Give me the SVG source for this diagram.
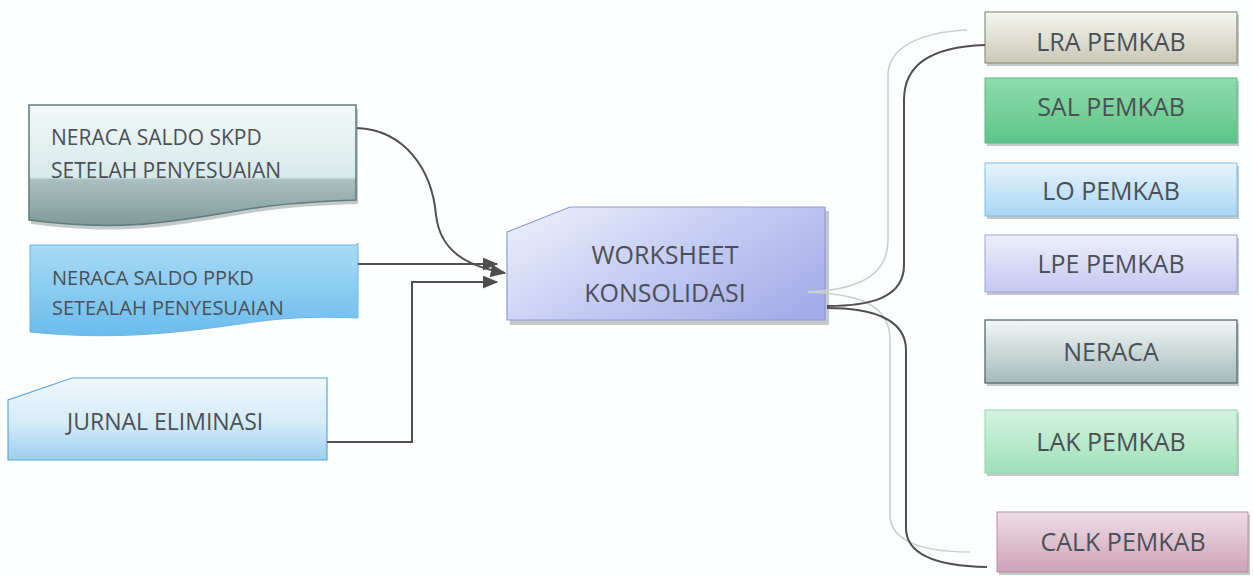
<svg xmlns="http://www.w3.org/2000/svg" width="1253" height="576" viewBox="0 0 1253 576">
<defs>
<style>
.t{font-family:"Open Sans","Liberation Sans",sans-serif;fill:#4b5056;}
.c{text-anchor:middle;}
.r{font-size:25px;text-anchor:middle;}
.dk{fill:none;stroke:#505050;stroke-width:2;}
.lt{fill:none;stroke:#c9cfcf;stroke-width:1.6;}
.sh{fill:#7d8a8a;opacity:0.45;}
</style>
<marker id="ah" viewBox="0 0 12 10" refX="11" refY="5" markerWidth="16" markerHeight="13" markerUnits="userSpaceOnUse" orient="auto">
<path d="M0,0 L12,5 L0,10 Z" fill="#4d4d4d"/>
</marker>
<linearGradient id="g1" x1="0" y1="0" x2="0" y2="1">
<stop offset="0" stop-color="#f2f9f9"/><stop offset="0.6" stop-color="#d7e9ea"/><stop offset="0.62" stop-color="#aac0c0"/><stop offset="1" stop-color="#7f9a9a"/>
</linearGradient>
<linearGradient id="g2" x1="0" y1="0" x2="0" y2="1">
<stop offset="0" stop-color="#a9dbf6"/><stop offset="1" stop-color="#6bbcec"/>
</linearGradient>
<linearGradient id="g3" x1="0" y1="0" x2="0" y2="1">
<stop offset="0" stop-color="#f0f8fc"/><stop offset="0.55" stop-color="#d5ebf7"/><stop offset="1" stop-color="#9bcfef"/>
</linearGradient>
<linearGradient id="gw" x1="0" y1="0.2" x2="1" y2="0.8">
<stop offset="0" stop-color="#e9ecfb"/><stop offset="0.5" stop-color="#c4cbf3"/><stop offset="1" stop-color="#a4ade9"/>
</linearGradient>
<linearGradient id="gLRA" x1="0" y1="0" x2="0" y2="1">
<stop offset="0" stop-color="#f7f7f2"/><stop offset="1" stop-color="#c9c8b6"/>
</linearGradient>
<linearGradient id="gSAL" x1="0" y1="0" x2="0" y2="1">
<stop offset="0" stop-color="#8fdcab"/><stop offset="1" stop-color="#5dc587"/>
</linearGradient>
<linearGradient id="gLO" x1="0" y1="0" x2="0" y2="1">
<stop offset="0" stop-color="#e7f4fc"/><stop offset="1" stop-color="#a9d6f3"/>
</linearGradient>
<linearGradient id="gLPE" x1="0" y1="0" x2="0" y2="1">
<stop offset="0" stop-color="#eeeffb"/><stop offset="1" stop-color="#c4c8ef"/>
</linearGradient>
<linearGradient id="gNER" x1="0" y1="0" x2="0" y2="1">
<stop offset="0" stop-color="#f3f8f7"/><stop offset="1" stop-color="#a3b9b9"/>
</linearGradient>
<linearGradient id="gLAK" x1="0" y1="0" x2="0" y2="1">
<stop offset="0" stop-color="#d6f3e0"/><stop offset="1" stop-color="#9fe0b9"/>
</linearGradient>
<linearGradient id="gCALK" x1="0" y1="0" x2="0" y2="1">
<stop offset="0" stop-color="#efdde6"/><stop offset="1" stop-color="#cfa2b7"/>
</linearGradient>
</defs>
<rect width="1253" height="576" fill="#fdfefe"/>

<g id="node-skpd">
<path d="M31,109 H358 V204 C300,206 270,209 232,216 C172,226 122,236 31,224 Z" class="sh"/>
<path d="M29,105 H356 V200 C300,202 270,205 230,212 C170,222 120,232 29,220 Z" fill="url(#g1)" stroke="#5f7b7c" stroke-width="1.5"/>
<text class="t" x="51" y="145" font-size="21">NERACA SALDO SKPD</text>
<text class="t" x="51" y="178" font-size="21">SETELAH PENYESUAIAN</text>
</g>

<g id="node-ppkd">
<path d="M30,245 H356 L358,243 V318 C310,316 280,318 240,324 C170,334 110,340 30,332 Z" fill="url(#g2)" stroke="#6ab6e6" stroke-width="1"/>
<text class="t" x="52" y="285" font-size="20">NERACA SALDO PPKD</text>
<text class="t" x="52" y="315" font-size="20">SETEALAH PENYESUAIAN</text>
</g>

<g id="node-jurnal">
<path d="M72,378 H327 V460 H8 V400 Z" fill="url(#g3)" stroke="#5aa7dc" stroke-width="1.2"/>
<text class="t" x="67" y="430" font-size="23">JURNAL ELIMINASI</text>
</g>

<g id="node-worksheet">
<path d="M510,236 L573,211 H829 V325 H510 Z" class="sh"/>
<path d="M570,207 H825 V320 H507 V232 Z" fill="url(#gw)" stroke="#8f99da" stroke-width="1.2"/>
<text class="t c" x="665" y="264" font-size="25">WORKSHEET</text>
<text class="t c" x="665" y="302" font-size="25">KONSOLIDASI</text>
</g>

<g id="node-lra">
<rect x="987" y="15" width="252" height="51" class="sh"/>
<rect x="985" y="12" width="252" height="51" fill="url(#gLRA)" stroke="#8f8f7c" stroke-width="1.2"/>
<text class="t r" x="1111" y="51">LRA PEMKAB</text>
</g>

<g id="node-sal">
<rect x="987" y="81" width="252" height="65" class="sh"/>
<rect x="985" y="78" width="252" height="65" fill="url(#gSAL)" stroke="#5fb884" stroke-width="1"/>
<text class="t r" x="1111" y="116">SAL PEMKAB</text>
</g>

<g id="node-lo">
<rect x="987" y="166" width="252" height="53" class="sh"/>
<rect x="985" y="163" width="252" height="53" fill="url(#gLO)" stroke="#7fbde8" stroke-width="1"/>
<text class="t r" x="1111" y="200">LO PEMKAB</text>
</g>

<g id="node-lpe">
<rect x="987" y="238" width="252" height="57" class="sh"/>
<rect x="985" y="235" width="252" height="57" fill="url(#gLPE)" stroke="#9fa4dc" stroke-width="1"/>
<text class="t r" x="1111" y="273">LPE PEMKAB</text>
</g>

<g id="node-neraca">
<rect x="987" y="323" width="252" height="63" class="sh"/>
<rect x="985" y="320" width="252" height="63" fill="url(#gNER)" stroke="#5d7273" stroke-width="1.4"/>
<text class="t r" x="1111" y="361">NERACA</text>
</g>

<g id="node-lak">
<rect x="987" y="413" width="252" height="63" class="sh"/>
<rect x="985" y="410" width="252" height="63" fill="url(#gLAK)" stroke="#92d6ad" stroke-width="1"/>
<text class="t r" x="1111" y="451">LAK PEMKAB</text>
</g>

<g id="node-calk">
<rect x="999" y="515" width="251" height="60" class="sh"/>
<rect x="997" y="512" width="251" height="60" fill="url(#gCALK)" stroke="#b98ea3" stroke-width="1"/>
<text class="t r" x="1123" y="551">CALK PEMKAB</text>
</g>

<g id="connectors">
<path class="dk" d="M357,128 C405,130 432,170 436,215 C440,250 465,266 505,273" marker-end="url(#ah)"/>
<path class="dk" d="M358,264 H497" marker-end="url(#ah)"/>
<path class="dk" d="M327,442 H412 V282 H497" marker-end="url(#ah)"/>
<path class="lt" d="M808,292 C850,290 888,280 888,240 V75 C888,48 920,32 967,30"/>
<path class="lt" d="M808,292 C850,294 890,300 890,340 V515 C890,540 920,552 970,552"/>
<path class="dk" d="M827,306 C870,306 904,298 904,265 V100 C904,65 930,47 985,45"/>
<path class="dk" d="M827,308 C870,308 906,318 906,350 V528 C906,552 930,566 987,567"/>
</g>
</svg>
